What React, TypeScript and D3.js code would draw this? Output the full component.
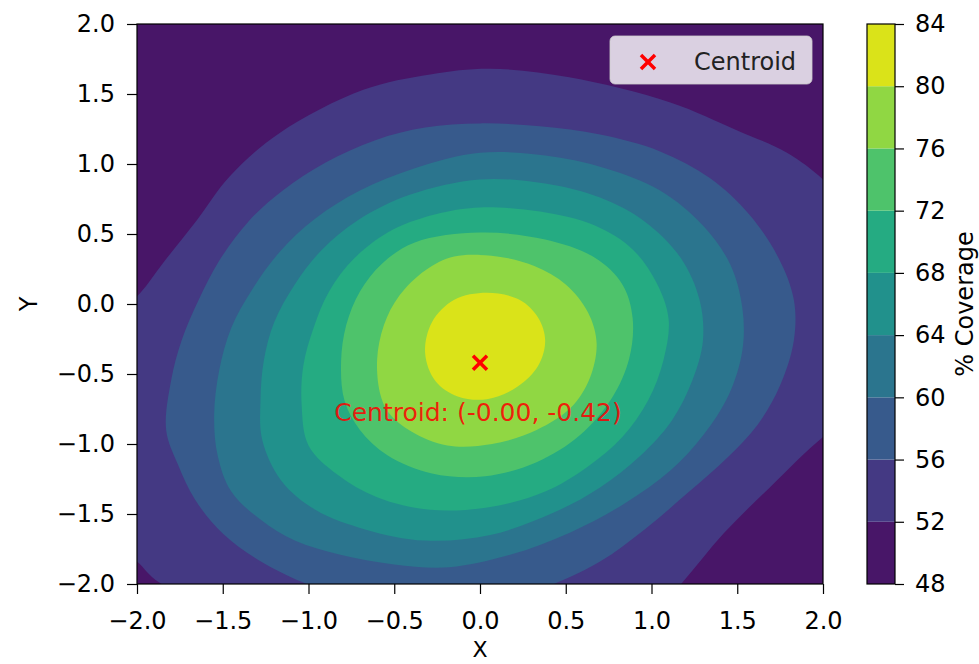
import { useEffect, useRef } from "react";
import * as d3 from "d3";

// contour levels (% coverage) and axis ticks
const levels = [48, 52, 56, 60, 64, 68, 72, 76, 80, 84];
const xTicks = [-2, -1.5, -1, -0.5, 0, 0.5, 1, 1.5, 2];
const yTicks = [-2, -1.5, -1, -0.5, 0, 0.5, 1, 1.5, 2];
const centroid: [number, number] = [0, -0.42];

// contour lines, [x, y] in data units
// (outer ones run past the axes box and get clipped)
const c52 = [
  [-1.98, 0.08], [-1.85, 0.29], [-1.65, 0.6], [-1.46, 0.91], [-1.17, 1.22], [-0.68, 1.53],
  [-0.29, 1.64], [0.06, 1.68], [0.52, 1.62], [1.11, 1.44], [1.5, 1.24], [1.79, 1.08],
  [2.0, 0.89], [2.22, 0.6], [2.33, -0.11], [2.22, -0.76], [2.0, -0.95], [1.69, -1.31],
  [1.42, -1.64], [1.18, -1.99], [0.93, -2.33], [-1.05, -2.4], [-1.87, -1.99], [-2.0, -1.84],
  [-2.16, -1.69], [-2.22, -0.69], [-2.13, -0.11],
];
const c56 = [
  [-1.83, -0.9], [-1.8, -0.54], [-1.74, -0.26], [-1.64, 0.03], [-1.52, 0.31], [-1.35, 0.59],
  [-1.15, 0.81], [-0.9, 1.01], [-0.61, 1.17], [-0.32, 1.26], [0.0, 1.29], [0.35, 1.27],
  [0.7, 1.21], [1.05, 1.09], [1.34, 0.9], [1.57, 0.64], [1.74, 0.33], [1.83, 0.03],
  [1.83, -0.26], [1.75, -0.58], [1.62, -0.86], [1.44, -1.1], [1.22, -1.34], [0.96, -1.61],
  [0.7, -1.84], [0.45, -1.99], [0.0, -2.19], [-0.58, -2.19], [-1.03, -1.99], [-1.29, -1.83],
  [-1.5, -1.64], [-1.66, -1.4], [-1.76, -1.15],
];
const c60 = [
  [-1.52, -0.47], [-1.45, -0.17], [-1.33, 0.1], [-1.17, 0.37], [-0.96, 0.61], [-0.7, 0.81],
  [-0.38, 0.97], [0.0, 1.08], [0.38, 1.06], [0.73, 0.97], [1.05, 0.81], [1.3, 0.56],
  [1.46, 0.28], [1.53, -0.03], [1.53, -0.33], [1.45, -0.65], [1.3, -0.94], [1.11, -1.19],
  [0.85, -1.42], [0.53, -1.63], [0.18, -1.79], [-0.18, -1.88], [-0.5, -1.86], [-0.82, -1.79],
  [-1.08, -1.69], [-1.28, -1.54], [-1.45, -1.34], [-1.53, -1.08], [-1.55, -0.79],
];
const c64 = [
  [-1.27, -0.97], [-1.28, -0.69], [-1.26, -0.4], [-1.2, -0.13], [-1.08, 0.14], [-0.92, 0.39],
  [-0.71, 0.6], [-0.41, 0.78], [0.0, 0.89], [0.38, 0.86], [0.7, 0.76], [0.96, 0.59],
  [1.17, 0.33], [1.28, 0.03], [1.3, -0.26], [1.24, -0.54], [1.12, -0.83], [0.93, -1.09],
  [0.7, -1.31], [0.43, -1.49], [0.06, -1.65], [-0.32, -1.69], [-0.67, -1.61], [-0.96, -1.47],
  [-1.16, -1.26],
];
const c68 = [
  [-1.0, -1.01], [-1.04, -0.72], [-1.03, -0.44], [-0.97, -0.17], [-0.88, 0.09], [-0.73, 0.33],
  [-0.51, 0.53], [-0.23, 0.65], [0.0, 0.69], [0.35, 0.66], [0.67, 0.56], [0.89, 0.39],
  [1.03, 0.15], [1.1, -0.11], [1.07, -0.4], [0.98, -0.69], [0.83, -0.95], [0.63, -1.16],
  [0.38, -1.34], [0.06, -1.45], [-0.29, -1.47], [-0.6, -1.38], [-0.83, -1.22],
];
const c72 = [
  [-0.79, -0.69], [-0.81, -0.41], [-0.78, -0.15], [-0.7, 0.09], [-0.57, 0.29], [-0.38, 0.44],
  [0.0, 0.51], [0.38, 0.46], [0.67, 0.33], [0.83, 0.14], [0.89, -0.1], [0.87, -0.39],
  [0.77, -0.67], [0.58, -0.94], [0.33, -1.13], [0.03, -1.23], [-0.28, -1.21], [-0.54, -1.08],
  [-0.7, -0.9],
];
const c76 = [
  [-0.58, -0.65], [-0.6, -0.4], [-0.56, -0.15], [-0.47, 0.06], [-0.32, 0.24], [-0.15, 0.34],
  [0.1, 0.34], [0.32, 0.27], [0.5, 0.14], [0.63, -0.06], [0.68, -0.28], [0.64, -0.53],
  [0.53, -0.74], [0.33, -0.9], [0.07, -1.0], [-0.19, -1.01], [-0.4, -0.91], [-0.53, -0.78],
];
const c80 = [
  [0.04, 0.08], [0.23, 0.03], [0.34, -0.1], [0.38, -0.26], [0.34, -0.44], [0.22, -0.59],
  [0.04, -0.68], [-0.13, -0.66], [-0.26, -0.55], [-0.32, -0.35], [-0.28, -0.13], [-0.15, 0.03],
];
const contours = [c52, c56, c60, c64, c68, c72, c76, c80];

const FONT = "DejaVu Sans";

function draw(node: SVGSVGElement) {
  const svg = d3.select(node);
  svg.selectAll("*").remove();

  const x = d3.scaleLinear().domain([-2, 2]).range([137, 823]);
  const y = d3.scaleLinear().domain([-2, 2]).range([584, 24]);
  const nBands = levels.length - 1;
  const band = (i: number) => d3.interpolateViridis((i + 0.5) / nBands);

  const lineGen = d3
    .line<number[]>()
    .x((d) => x(d[0]))
    .y((d) => y(d[1]))
    .curve(d3.curveCatmullRomClosed.alpha(0.5));

  svg.append("defs").append("clipPath").attr("id", "plotclip")
    .append("rect")
    .attr("x", x(-2)).attr("y", y(2))
    .attr("width", x(2) - x(-2)).attr("height", y(-2) - y(2));

  // filled bands, painted outer to inner
  const plot = svg.append("g").attr("clip-path", "url(#plotclip)");
  plot.append("rect")
    .attr("x", x(-2)).attr("y", y(2))
    .attr("width", x(2) - x(-2)).attr("height", y(-2) - y(2))
    .attr("fill", band(0));
  contours.forEach((c, i) => {
    plot.append("path").attr("d", lineGen(c)).attr("fill", band(i + 1));
  });

  // centroid marker + annotation
  const cross = d3.symbol(d3.symbolX, 130);
  plot.append("path")
    .attr("d", cross())
    .attr("transform", `translate(${x(centroid[0])},${y(centroid[1])})`)
    .attr("fill", "none").attr("stroke", "red").attr("stroke-width", 3.5);
  plot.append("text")
    .attr("x", x(centroid[0]) - 2)
    .attr("y", y(centroid[1] - 0.35))
    .attr("dy", "0.35em")
    .attr("text-anchor", "middle")
    .attr("font-size", 25).attr("font-family", FONT)
    .attr("fill", "red").attr("fill-opacity", 0.85)
    .text(`Centroid: (-${Math.abs(centroid[0]).toFixed(2)}, ${centroid[1].toFixed(2)})`);

  // axes frame
  svg.append("rect")
    .attr("x", x(-2)).attr("y", y(2))
    .attr("width", x(2) - x(-2)).attr("height", y(-2) - y(2))
    .attr("fill", "none").attr("stroke", "black").attr("stroke-width", 1.2);

  const fmt = d3.format(".1f");
  const gx = svg.append("g")
    .attr("transform", `translate(0,${y(-2)})`)
    .call(d3.axisBottom(x).tickValues(xTicks).tickFormat((d) => fmt(d as number)).tickSize(10).tickPadding(18));
  const gy = svg.append("g")
    .attr("transform", `translate(${x(-2)},0)`)
    .call(d3.axisLeft(y).tickValues(yTicks).tickFormat((d) => fmt(d as number)).tickSize(10).tickPadding(12));
  [gx, gy].forEach((g) => {
    g.select(".domain").remove();
    g.selectAll("line").attr("stroke", "black").attr("stroke-width", 1.2);
    g.selectAll("text").attr("font-size", 24).attr("font-family", FONT).attr("fill", "black");
  });

  svg.append("text")
    .attr("x", x(0)).attr("y", 657)
    .attr("text-anchor", "middle")
    .attr("font-size", 22).attr("font-family", FONT)
    .text("X");
  svg.append("text")
    .attr("transform", `translate(37,${y(0)}) rotate(-90)`)
    .attr("text-anchor", "middle")
    .attr("font-size", 24).attr("font-family", FONT)
    .text("Y");

  // colorbar
  const cb = { x0: 867, x1: 895 };
  const yc = d3.scaleLinear().domain([levels[0], levels[levels.length - 1]]).range([584, 24]);
  const gc = svg.append("g");
  d3.pairs(levels).forEach(([lo, hi], i) => {
    gc.append("rect")
      .attr("x", cb.x0).attr("y", yc(hi))
      .attr("width", cb.x1 - cb.x0).attr("height", yc(lo) - yc(hi))
      .attr("fill", band(i));
  });
  gc.append("rect")
    .attr("x", cb.x0).attr("y", yc(levels[levels.length - 1]))
    .attr("width", cb.x1 - cb.x0).attr("height", yc(levels[0]) - yc(levels[levels.length - 1]))
    .attr("fill", "none").attr("stroke", "black").attr("stroke-width", 1.2);
  const gca = svg.append("g")
    .attr("transform", `translate(${cb.x1},0)`)
    .call(d3.axisRight(yc).tickValues(levels).tickFormat(d3.format("d")).tickSize(9).tickPadding(11));
  gca.select(".domain").remove();
  gca.selectAll("line").attr("stroke", "black").attr("stroke-width", 1.2);
  gca.selectAll("text").attr("font-size", 24).attr("font-family", FONT).attr("fill", "black");
  svg.append("text")
    .attr("transform", `translate(973,${yc(66)}) rotate(-90)`)
    .attr("text-anchor", "middle")
    .attr("font-size", 24).attr("font-family", FONT)
    .text("% Coverage");

  // legend
  const lg = svg.append("g").attr("transform", "translate(610,36)");
  lg.append("rect")
    .attr("width", 202).attr("height", 48).attr("rx", 5)
    .attr("fill", "white").attr("fill-opacity", 0.8)
    .attr("stroke", "#cccccc").attr("stroke-opacity", 0.8);
  lg.append("path")
    .attr("d", cross())
    .attr("transform", "translate(38,26)")
    .attr("fill", "none").attr("stroke", "red").attr("stroke-width", 3.5);
  lg.append("text")
    .attr("x", 84).attr("y", 34)
    .attr("font-size", 24).attr("font-family", FONT)
    .attr("fill", "#222")
    .text("Centroid");
}

export default function App() {
  const ref = useRef<SVGSVGElement>(null);
  useEffect(() => {
    if (ref.current) draw(ref.current);
  }, []);
  return (
    <svg
      ref={ref}
      width={979}
      height={664}
      style={{ position: "absolute", left: 0, top: 0, background: "white" }}
    />
  );
}
